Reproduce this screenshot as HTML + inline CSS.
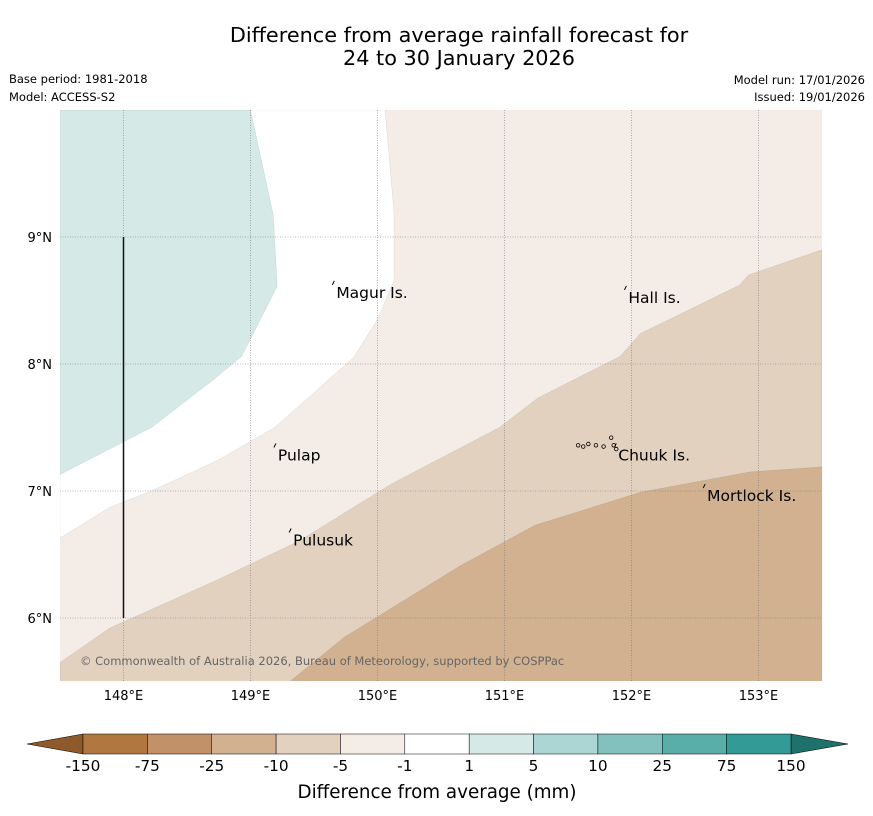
<!DOCTYPE html>
<html><head><meta charset="utf-8"><style>
body{margin:0;background:#fff;width:873px;height:816px;overflow:hidden;font-family:"DejaVu Sans","Liberation Sans",sans-serif}
svg{position:absolute;left:0;top:0}
</style></head><body>
<svg width="873" height="816" xmlns="http://www.w3.org/2000/svg" font-family="DejaVu Sans, Liberation Sans, sans-serif">
<text x="459" y="42" font-size="20.8" text-anchor="middle">Difference from average rainfall forecast for</text>
<text x="459" y="65" font-size="20.8" text-anchor="middle">24 to 30 January 2026</text>
<text x="9" y="83" font-size="11.5">Base period: 1981-2018</text>
<text x="9" y="101" font-size="11.5">Model: ACCESS-S2</text>
<text x="865" y="84" font-size="11.5" text-anchor="end">Model run: 17/01/2026</text>
<text x="865" y="101" font-size="11.5" text-anchor="end">Issued: 19/01/2026</text>
<defs><clipPath id="mc"><rect x="60" y="110" width="762" height="571"/></clipPath></defs>
<g id="map" clip-path="url(#mc)"></g>
<g id="over"></g>
<g id="cbar"></g>
<text x="437" y="798" font-size="18.3" text-anchor="middle">Difference from average (mm)</text>
</svg>
<script>
const lonTicks=[148,149,150,151,152,153];
const latTicks=[6,7,8,9];
const whiteBoundary=[[147.5,10],[150.06,10],[150.13,9.19],[150.13,8.66],[150.0,8.35],[149.81,8.05],[149.19,7.5],[148.74,7.24],[148.22,7.0],[147.89,6.87],[147.5,6.63]];
const tealRegion=[[147.5,10],[149.0,10],[149.18,9.17],[149.21,8.61],[148.93,8.06],[148.7,7.87],[148.22,7.5],[147.5,7.13]];
const minus10Boundary=[[147.5,5.65],[147.89,5.92],[148.74,6.3],[149.39,6.61],[150.1,7.05],[150.96,7.5],[151.26,7.73],[151.91,8.06],[152.07,8.24],[152.85,8.62],[152.92,8.7],[153.5,8.9],[153.5,5.5],[147.5,5.5]];
const minus25Boundary=[[149.31,5.5],[149.74,5.85],[150.65,6.41],[151.24,6.73],[152.07,6.99],[152.93,7.15],[153.5,7.19],[153.5,5.5]];
const places=["Magur Is.","Hall Is.","Pulap","Chuuk Is.","Mortlock Is.","Pulusuk"];
const placeLon=[149.66,151.96,149.2,151.88,152.58,149.32];
const placeLat=[8.56,8.52,7.28,7.28,6.96,6.61];
const chuukLon=[151.58,151.62,151.66,151.72,151.78,151.84,151.86,151.88];
const chuukLat=[7.36,7.35,7.37,7.36,7.35,7.42,7.36,7.33];
const cbLevels=["-150","-75","-25","-10","-5","-1","1","5","10","25","75","150"];
const cbColors=["#b07840","#c1916a","#d2b191","#e3d1c0","#f4ede7","#ffffff","#d5e9e7","#acd6d3","#83c1be","#5aaeaa","#339a96"];
const NS="http://www.w3.org/2000/svg";
const X=lon=>60+(lon-147.5)*127, Y=lat=>110+(10-lat)*127;
function mk(t,a,p){const e=document.createElementNS(NS,t);for(const k in a)e.setAttribute(k,a[k]);p.appendChild(e);return e;}
const map=document.getElementById('map');
let r=mk('rect',{x:60,y:110,width:762,height:571,fill:cbColors[4]},map);


function poly(pts,fill,name){const p=mk('polygon',{points:pts.map(q=>X(q[0])+','+Y(q[1])).join(' '),fill:fill,stroke:'rgba(0,0,0,0.12)','stroke-width':0.5},map);

}
poly(whiteBoundary,cbColors[5],'region-near-average');
poly(tealRegion,cbColors[6],'region-plus1');
poly(minus10Boundary,cbColors[3],'region-minus10');
poly(minus25Boundary,cbColors[2],'region-minus25');
const over=document.getElementById('over');
lonTicks.forEach(l=>{const g=mk('line',{x1:X(l),x2:X(l),y1:110,y2:681,stroke:'#777','stroke-width':0.6,'stroke-dasharray':'1,1.5'},over);


const t=mk('text',{x:X(l),y:700,'font-size':13,'text-anchor':'middle'},over);t.textContent=l+'°E';

});
latTicks.forEach(l=>{const g=mk('line',{x1:60,x2:822,y1:Y(l),y2:Y(l),stroke:'#777','stroke-width':0.6,'stroke-dasharray':'1,1.5'},over);


const t=mk('text',{x:52,y:Y(l)+5,'font-size':13,'text-anchor':'end'},over);t.textContent=l+'°N';

});
const vl=mk('line',{x1:X(148),x2:X(148),y1:Y(9),y2:Y(6),stroke:'#111','stroke-width':1.5},over);


places.forEach((n,i)=>{const t=mk('text',{x:X(placeLon[i])+2,y:Y(placeLat[i])+5,'font-size':15.5},over);t.textContent=n;


const d=mk('path',{d:`M${X(placeLon[i])},${Y(placeLat[i])-12} l-2,4`,stroke:'#000','stroke-width':1},over);

});
chuukLon.forEach((l,i)=>{const c=mk('circle',{cx:X(l),cy:Y(chuukLat[i]),r:1.8,fill:'none',stroke:'#000','stroke-width':0.8},over);

});
const cp=mk('text',{x:80,y:665,'font-size':11.5,fill:'#666'},over);cp.textContent='© Commonwealth of Australia 2026, Bureau of Meteorology, supported by COSPPac';


const cb=document.getElementById('cbar');const x0=83,w=(791-83)/11,y0=734,h=20;
const la=mk('polygon',{points:`27,744 ${x0},${y0} ${x0},${y0+h}`,fill:'#8e5a2a',stroke:'#000','stroke-width':0.5},cb);


const ra=mk('polygon',{points:`848,744 791,${y0} 791,${y0+h}`,fill:'#1f716c',stroke:'#000','stroke-width':0.5},cb);


cbColors.forEach((c,i)=>{const s=mk('rect',{x:x0+i*w,y:y0,width:w,height:h,fill:c,stroke:'#000','stroke-width':0.5},cb);

});
cbLevels.forEach((l,i)=>{const t=mk('text',{x:x0+i*w,y:771,'font-size':15.3,'text-anchor':'middle'},cb);t.textContent=l;

});
</script>
</body></html>
